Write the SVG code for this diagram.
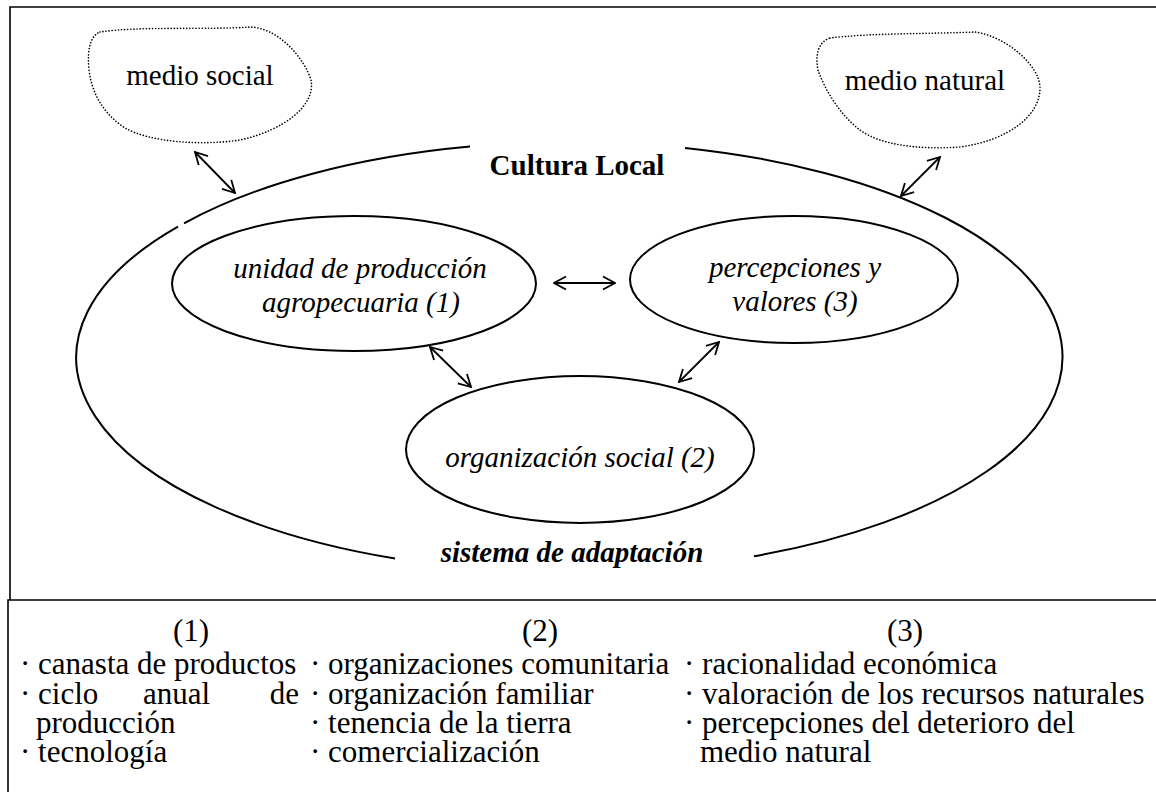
<svg xmlns="http://www.w3.org/2000/svg" width="1156" height="792" viewBox="0 0 1156 792">
<style>
  .frame{fill:none;stroke:#000;stroke-width:1.6}
  .ell{fill:none;stroke:#000;stroke-width:2}
  .cloud{fill:none;stroke:#000;stroke-width:1.6;stroke-dasharray:0.1 3;stroke-linecap:round}
  .conn{fill:none;stroke:#000;stroke-width:1.8;marker-start:url(#ah);marker-end:url(#ah)}
  text{font-family:"Liberation Serif","Times New Roman",serif;fill:#000}
  .lbl{font-size:29px}
  .it{font-size:29px;font-style:italic}
  .b{font-size:29px;font-weight:bold}
  .bi{font-size:29px;font-weight:bold;font-style:italic}
  .list{font-size:31px}
  .mid{text-anchor:middle}
</style>
<defs>
  <marker id="ah" viewBox="0 0 14 16" refX="13" refY="8" markerWidth="14" markerHeight="16" markerUnits="userSpaceOnUse" orient="auto-start-reverse">
    <path d="M1,1.5 L13,8 L1,14.5" fill="none" stroke="#000" stroke-width="1.8"/>
  </marker>
</defs>
<rect width="1156" height="792" fill="#fff"/>

<g id="frames">
  <path class="frame" d="M10,600 V7 H1160"/>
  <path class="frame" d="M8,795 V600 H1160" stroke-width="2.2"/>
</g>

<g id="cultura-local">
  <path class="ell" d="M685,147.9 A493,215 0 0 1 754,556.3"/>
  <path class="ell" d="M395,558.5 A493,215 0 0 1 178,226.6"/>
  <path class="ell" d="M184,223.3 A493,215 0 0 1 470,146.5"/>
  <text class="b mid" x="577" y="175">Cultura Local</text>
  <text class="bi mid" x="572" y="562">sistema de adaptación</text>
</g>

<g id="medio-social">
  <path class="cloud" d="M100,32 C140,26 210,30 250,27 C280,28 305,60 311,80 C316,105 285,130 240,140 C200,146 150,142 125,128 C105,115 92,95 89,70 C87,50 90,36 100,32 Z"/>
  <text class="lbl mid" x="200" y="85">medio social</text>
</g>

<g id="medio-natural">
  <path class="cloud" d="M830,38 C870,33 930,34 975,32 C1005,36 1040,65 1040,88 C1040,115 1010,140 960,147 C920,150 880,145 860,130 C840,115 825,90 818,70 C815,55 818,42 830,38 Z"/>
  <text class="lbl mid" x="925" y="90">medio natural</text>
</g>

<g id="unidad">
  <ellipse class="ell" cx="354" cy="283.5" rx="182" ry="67.5"/>
  <text class="it mid" x="360" y="278">unidad de producción</text>
  <text class="it mid" x="361" y="312">agropecuaria (1)</text>
</g>

<g id="percepciones">
  <ellipse class="ell" cx="794" cy="279.5" rx="164" ry="63.5"/>
  <text class="it mid" x="795" y="277">percepciones y</text>
  <text class="it mid" x="795" y="311">valores (3)</text>
</g>

<g id="organizacion">
  <ellipse class="ell" cx="580" cy="449.5" rx="174" ry="73.5"/>
  <text class="it mid" x="580" y="467">organización social (2)</text>
</g>

<g id="connectors">
  <line class="conn" x1="195" y1="152" x2="235" y2="193"/>
  <line class="conn" x1="940" y1="157" x2="901" y2="196"/>
  <line class="conn" x1="554" y1="283" x2="615" y2="283"/>
  <line class="conn" x1="430" y1="347" x2="471" y2="387"/>
  <line class="conn" x1="719" y1="342" x2="679" y2="382"/>
</g>

<g id="legend">
  <text class="list mid" x="191" y="641">(1)</text>
  <text class="list" x="20" y="674">· canasta de productos</text>
  <text class="list" x="20" y="703.5">· ciclo</text>
  <text class="list" x="143" y="703.5">anual</text>
  <text class="list" x="299" y="703.5" text-anchor="end">de</text>
  <text class="list" x="36" y="733">producción</text>
  <text class="list" x="20" y="762">· tecnología</text>

  <text class="list mid" x="540" y="641">(2)</text>
  <text class="list" x="310" y="674">· organizaciones comunitaria</text>
  <text class="list" x="310" y="703.5">· organización familiar</text>
  <text class="list" x="310" y="733">· tenencia de la tierra</text>
  <text class="list" x="310" y="762">· comercialización</text>

  <text class="list mid" x="905" y="641">(3)</text>
  <text class="list" x="684" y="674">· racionalidad económica</text>
  <text class="list" x="684" y="703.5">· valoración de los recursos naturales</text>
  <text class="list" x="684" y="733">· percepciones del deterioro del</text>
  <text class="list" x="700" y="762">medio natural</text>
</g>
</svg>
